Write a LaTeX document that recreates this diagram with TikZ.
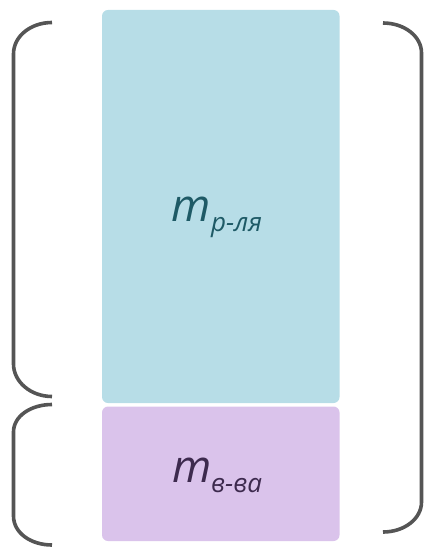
\documentclass[tikz,border=0pt]{standalone}
\usepackage{fontspec}
\newfontfamily\lab{Open Sans}
\definecolor{bluebox}{HTML}{B7DDE7}
\definecolor{bluetext}{HTML}{1E5A66}
\definecolor{purplebox}{HTML}{DAC3EB}
\definecolor{purpletext}{HTML}{3D2A4E}
\definecolor{bracecol}{HTML}{555555}
\tikzset{
  massbox/.style={rounded corners=6pt, draw=none},
  brace/.style={draw=bracecol, line width=3.6pt, line cap=butt},
  masslabel/.style={font=\lab\itshape}
}
\newcommand{\masslbl}[1]{{\fontsize{45}{45}\selectfont m}\raisebox{-10pt}{\fontsize{26}{26}\selectfont #1}}
\begin{document}
\begin{tikzpicture}[x=1pt,y=-1pt]
\useasboundingbox (0,0) rectangle (428,548);
% boxes
\fill[bluebox, massbox] (102,10) rectangle (339.5,403);
\fill[purplebox, massbox] (102,406.5) rectangle (339.5,541);
\node[masslabel, text=bluetext] (rl) at (217,217) {\masslbl{р-ля}};
\node[masslabel, text=purpletext] (vv) at (217,475) {\masslbl{в-ва}};
% left brace 1
\draw[brace] (52,22.5) .. controls (31,22.5) and (13.5,36) .. (13.5,54)
  -- (13.5,364) .. controls (13.5,382) and (31,396.5) .. (52,396.5);
% left brace 2
\draw[brace] (52,404.5) .. controls (31,404.5) and (13.5,416) .. (13.5,432)
  -- (13.5,516) .. controls (13.5,533) and (31,545) .. (52,545);
% right brace
\draw[brace] (383,23) .. controls (404,23) and (421.5,36) .. (421.5,53)
  -- (421.5,502) .. controls (421.5,519) and (404,532) .. (383,532);
\end{tikzpicture}
\end{document}
